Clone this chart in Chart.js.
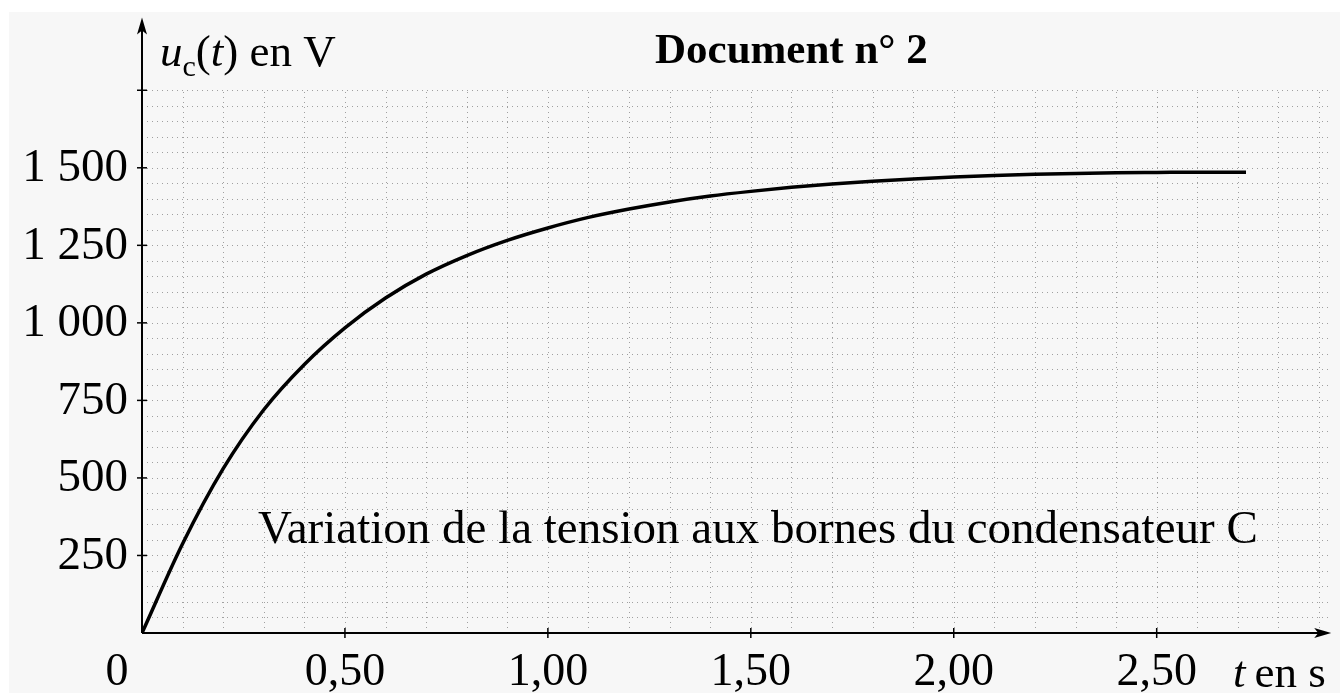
<!DOCTYPE html>
<html>
<head>
<meta charset="utf-8">
<script src="https://cdn.jsdelivr.net/npm/chart.js@4.4.1/dist/chart.umd.min.js"></script>
<style>
  html, body { margin: 0; padding: 0; background: #ffffff; }
  #wrap { position: relative; width: 1340px; height: 693px; }
  canvas { display: block; }
</style>
</head>
<body>
<div id="wrap"><canvas id="c" width="1340" height="693"></canvas></div>
<script>
// ---- data ----
const times = [0, 0.1, 0.2, 0.3, 0.4, 0.5, 0.6, 0.7, 0.8, 0.9, 1.0, 1.1, 1.2, 1.3, 1.4, 1.5, 1.6, 1.7, 1.8, 1.9, 2.0, 2.1, 2.2, 2.3, 2.4, 2.5, 2.6, 2.72];
const voltages = [0, 288, 530, 720, 866, 984, 1080, 1157, 1217, 1266, 1306, 1340, 1367, 1390, 1409, 1424, 1437, 1448, 1457, 1464, 1470, 1475, 1479, 1482, 1484, 1485, 1486, 1486];
const xTickValues = [0.5, 1.0, 1.5, 2.0, 2.5];
const xTickLabels = ['0,50', '1,00', '1,50', '2,00', '2,50'];
const yTickValues = [250, 500, 750, 1000, 1250, 1500];
const yTickLabels = ['250', '500', '750', '1 000', '1 250', '1 500'];
const originLabel = '0';
const titleText = 'Document n° 2';
const captionText = 'Variation de la tension aux bornes du condensateur C';

const SERIF = '"Liberation Serif", "DejaVu Serif", serif';

const decorPlugin = {
  id: 'decor',
  beforeDraw(chart) {
    const ctx = chart.ctx;
    ctx.save();
    ctx.fillStyle = '#ffffff';
    ctx.fillRect(0, 0, chart.width, chart.height);
    ctx.fillStyle = '#f7f7f7';
    ctx.fillRect(9, 12, chart.width - 9, chart.height - 12);
    ctx.restore();
  },
  beforeDatasetsDraw(chart) {
    const ctx = chart.ctx;
    const xs = chart.scales.x, ys = chart.scales.y;
    ctx.save();
    ctx.strokeStyle = '#a0a0a0';
    ctx.lineWidth = 1;
    ctx.setLineDash([1, 4]);
    // vertical grid every 0.1 s up to 1750 V
    const yTop = ys.getPixelForValue(1750);
    const yBot = ys.getPixelForValue(0);
    for (let i = 1; i <= 29; i++) {
      const px = Math.round(xs.getPixelForValue(i / 10)) + 0.5;
      ctx.beginPath(); ctx.moveTo(px, yBot); ctx.lineTo(px, yTop); ctx.stroke();
    }
    // horizontal grid every 50 V
    const xL = xs.getPixelForValue(0), xR = xs.getPixelForValue(2.93);
    for (let v = 50; v <= 1750; v += 50) {
      const py = Math.round(ys.getPixelForValue(v)) + 0.5;
      ctx.beginPath(); ctx.moveTo(xL, py); ctx.lineTo(xR, py); ctx.stroke();
    }
    ctx.setLineDash([]);

    // axes
    ctx.strokeStyle = '#000';
    ctx.fillStyle = '#000';
    ctx.lineWidth = 2;
    const ox = xs.getPixelForValue(0), oy = ys.getPixelForValue(0);
    const yTip = ys.getPixelForValue(1985);
    const xTip = xs.getPixelForValue(2.93);
    ctx.beginPath(); ctx.moveTo(ox, oy); ctx.lineTo(ox, yTip + 8); ctx.stroke();
    ctx.beginPath(); ctx.moveTo(ox, oy); ctx.lineTo(xTip - 8, oy); ctx.stroke();
    // arrow heads
    ctx.beginPath();
    ctx.moveTo(ox, yTip); ctx.lineTo(ox - 5, yTip + 17); ctx.lineTo(ox, yTip + 13); ctx.lineTo(ox + 5, yTip + 17); ctx.closePath(); ctx.fill();
    ctx.beginPath();
    ctx.moveTo(xTip, oy); ctx.lineTo(xTip - 17, oy - 5); ctx.lineTo(xTip - 13, oy); ctx.lineTo(xTip - 17, oy + 5); ctx.closePath(); ctx.fill();
    // ticks
    ctx.lineWidth = 1.5;
    for (const v of yTickValues.concat([1750])) {
      const py = ys.getPixelForValue(v);
      ctx.beginPath(); ctx.moveTo(ox - 5, py); ctx.lineTo(ox + 5, py); ctx.stroke();
    }
    for (const v of xTickValues) {
      const px = xs.getPixelForValue(v);
      ctx.beginPath(); ctx.moveTo(px, oy - 5); ctx.lineTo(px, oy + 5); ctx.stroke();
    }

    // tick labels
    ctx.font = '47px ' + SERIF;
    ctx.textBaseline = 'middle';
    ctx.textAlign = 'right';
    yTickValues.forEach((v, i) => {
      ctx.fillText(yTickLabels[i], ox - 14, ys.getPixelForValue(v) + 1);
    });
    ctx.font = '46px ' + SERIF;
    ctx.textAlign = 'center';
    xTickValues.forEach((v, i) => {
      ctx.fillText(xTickLabels[i], xs.getPixelForValue(v), oy + 40);
    });
    ctx.fillText(originLabel, ox - 25, oy + 40);

    // axis titles
    ctx.textBaseline = 'alphabetic';
    ctx.textAlign = 'left';
    // t en s
    let x = 1233;
    ctx.font = 'italic 45px ' + SERIF;
    ctx.fillText('t', x, oy + 54);
    x += ctx.measureText('t').width + 9;
    ctx.font = '45px ' + SERIF;
    ctx.fillText('en s', x, oy + 54);
    // u_c(t) en V
    x = 160;
    const by = 66;
    ctx.font = 'italic 45px ' + SERIF;
    ctx.fillText('u', x, by); x += ctx.measureText('u').width;
    ctx.font = '30px ' + SERIF;
    ctx.fillText('c', x, by + 10); x += ctx.measureText('c').width;
    ctx.font = '45px ' + SERIF;
    ctx.fillText('(', x, by); x += ctx.measureText('(').width;
    ctx.font = 'italic 45px ' + SERIF;
    ctx.fillText('t', x, by); x += ctx.measureText('t').width;
    ctx.font = '45px ' + SERIF;
    ctx.fillText(') en V', x, by);

    // title
    ctx.font = 'bold 43px ' + SERIF;
    ctx.fillText(titleText, 655, 63);
    // caption
    ctx.font = '47px ' + SERIF;
    ctx.fillText(captionText, 258, 543);
    ctx.restore();
  }
};

const points = times.map((t, i) => ({ x: t, y: voltages[i] }));

new Chart(document.getElementById('c'), {
  type: 'line',
  data: {
    datasets: [{
      label: 'u_c(t)',
      data: points,
      borderColor: '#000',
      borderWidth: 3.5,
      pointRadius: 0,
      fill: false,
      cubicInterpolationMode: 'monotone'
    }]
  },
  options: {
    responsive: false,
    animation: false,
    devicePixelRatio: 1,
    layout: { padding: { left: 142, right: 10, top: 18, bottom: 60 } },
    plugins: { legend: { display: false }, tooltip: { enabled: false } },
    scales: {
      x: { type: 'linear', min: 0, max: 2.927, display: false },
      y: { type: 'linear', min: 0, max: 1983, display: false }
    }
  },
  plugins: [decorPlugin]
});
</script>
</body>
</html>
